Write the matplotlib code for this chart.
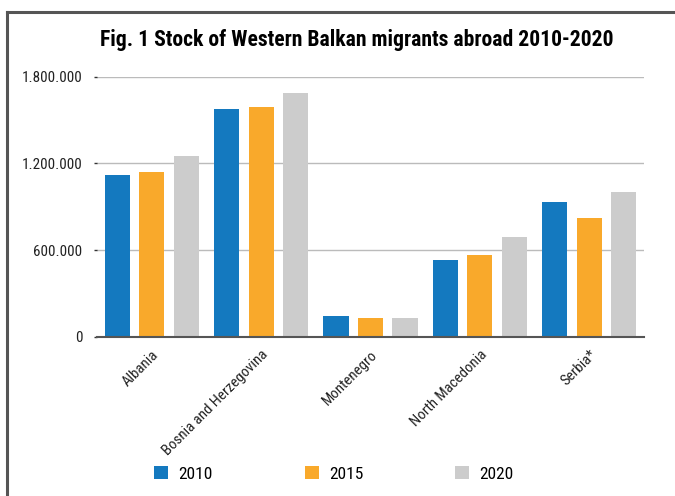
import matplotlib
matplotlib.use("Agg")
import matplotlib.pyplot as plt
from matplotlib import font_manager as fm
from matplotlib.lines import Line2D
import numpy as np

# data
countries = ["Albania", "Bosnia and Herzegovina", "Montenegro", "North Macedonia", "Serbia*"]
years = ["2010", "2015", "2020"]
stock_2010 = [1120000, 1577000, 143000, 531000, 933000]
stock_2015 = [1140000, 1590000, 129000, 566000, 822000]
stock_2020 = [1253000, 1688000, 129000, 690000, 1002000]
y_ticks = [0, 600000, 1200000, 1800000]
y_tick_labels = ["0", "600.000", "1.200.000", "1.800.000"]

colors = ["#1479BF", "#F9A92B", "#CCCCCC"]


def pick_font(names):
    for n in names:
        try:
            fm.findfont(fm.FontProperties(family=n), fallback_to_default=False)
            return n
        except Exception:
            pass
    return "DejaVu Sans"


narrow = pick_font(["Roboto Condensed", "Liberation Sans Narrow", "Roboto"])
plt.rcParams["font.family"] = [narrow, "DejaVu Sans"]

fig = plt.figure(figsize=(6.75, 4.96), dpi=100)
ax = fig.add_axes([97 / 675, 1 - 336.7 / 496, (644 - 97) / 675, (336.7 - 76.7) / 496])

x = np.arange(len(countries))
series = [stock_2010, stock_2015, stock_2020]
offs = [-0.315, 0.0, 0.315]
for vals, off, c, lab in zip(series, offs, colors, years):
    ax.bar(x + off, vals, width=0.23, color=c, label=lab, zorder=3)

ax.set_xlim(-0.5, len(countries) - 0.5)
ax.set_ylim(0, 1800000)
ax.set_yticks(y_ticks)
ax.set_yticklabels(y_tick_labels, fontsize=10.9, color="#222222")
ax.tick_params(axis="y", length=2, width=1, color="#333333", pad=8.5)
ax.set_xticks(x)
ax.set_xticklabels(countries, rotation=45, ha="right", rotation_mode="anchor",
                   fontsize=10.7, color="#222222")
ax.tick_params(axis="x", length=0, pad=8)

ax.grid(axis="y", color="#BBBBBB", linewidth=1, zorder=0)
for s in ["top", "right", "left"]:
    ax.spines[s].set_visible(False)
ax.spines["bottom"].set_color("#555555")
ax.spines["bottom"].set_linewidth(1.5)
ax.spines["bottom"].set_zorder(4)

fig.text(357 / 675, 1 - 40 / 496, "Fig. 1 Stock of Western Balkan migrants abroad 2010-2020",
         ha="center", va="center", fontsize=15.6, fontweight="bold", color="#000000")

# legend at the bottom
fig.legend(loc="center", bbox_to_anchor=(334 / 675, 1 - 474 / 496), ncol=3, frameon=False,
           fontsize=12.5, handlelength=0.8, handleheight=0.8, handletextpad=0.6,
           columnspacing=5.3)

# frame around the figure (runs off right and bottom)
fig.add_artist(Line2D([7 / 675, 7 / 675], [0, 1 - 12 / 496], transform=fig.transFigure,
                      color="#555555", linewidth=2.2))
fig.add_artist(Line2D([7 / 675, 1], [1 - 12 / 496, 1 - 12 / 496], transform=fig.transFigure,
                      color="#555555", linewidth=2.2))

fig.savefig("out.png", dpi=100)
